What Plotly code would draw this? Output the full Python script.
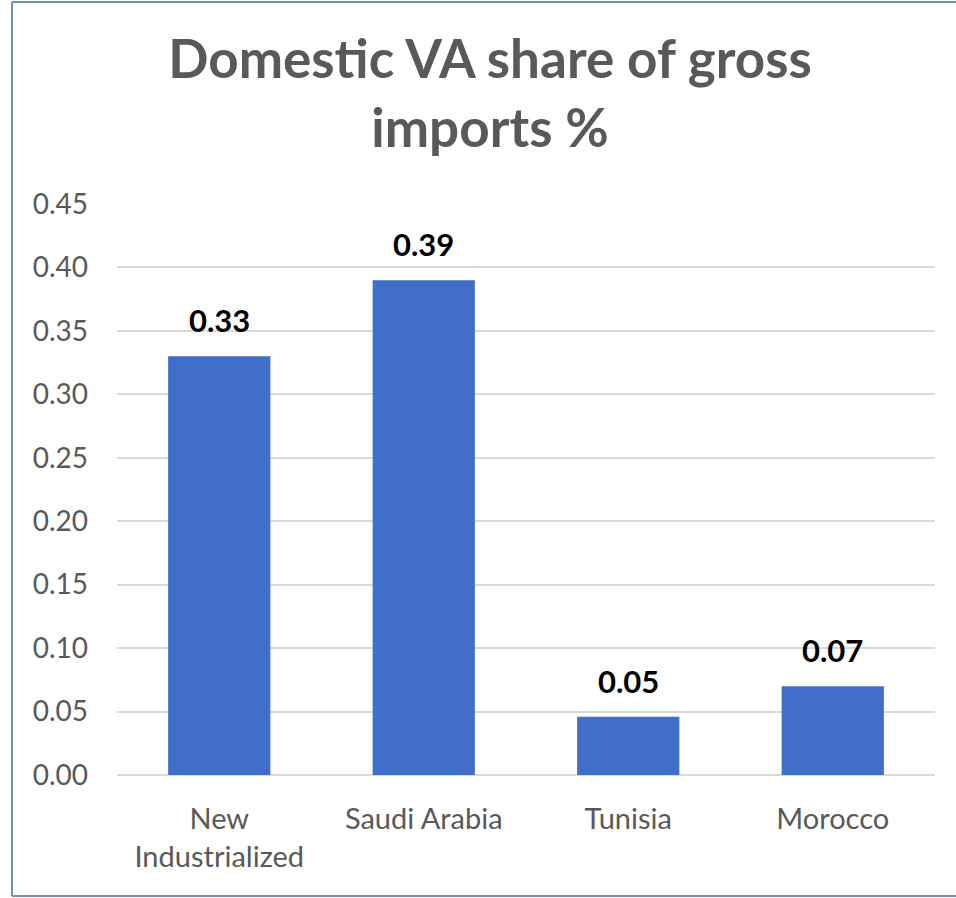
import plotly.graph_objects as go

# Domestic value-added share of gross imports, by economy
countries = ["New<br>Industrialized", "Saudi Arabia", "Tunisia", "Morocco"]
va_share = [0.33, 0.39, 0.046, 0.07]
y_ticks = [0.00, 0.05, 0.10, 0.15, 0.20, 0.25, 0.30, 0.35, 0.40, 0.45]

W, H = 956, 898
M_L, M_R, M_T, M_B = 117, 21, 204, 123

FONT = "Lato, Carlito, 'Open Sans', sans-serif"
GREY_TXT = "#595959"
BAR_BLUE = "#416ec8"

fig = go.Figure()
fig.add_trace(go.Bar(
    x=countries,
    y=va_share,
    width=0.5,
    marker=dict(color=BAR_BLUE, line=dict(width=0)),
    hoverinfo="x+y",
))

# value labels above each bar
for c, v in zip(countries, va_share):
    fig.add_annotation(
        x=c, y=v, text=f"<b>{v:.2f}</b>", showarrow=False,
        yanchor="bottom", yshift=15,
        font=dict(family=FONT, size=31, color="#000000"),
    )

# thin frame round the chart
pw = W - M_L - M_R
ph = H - M_T - M_B
def px_x(p):
    return (p - M_L) / pw
def px_y(p):
    return (H - M_B - p) / ph
frame = dict(type="line", xref="paper", yref="paper",
             line=dict(color="#6b94bd", width=2), layer="above")
fig.add_shape(**frame, x0=px_x(12), x1=px_x(12), y0=px_y(2), y1=px_y(896))
fig.add_shape(**frame, x0=px_x(12), x1=px_x(W + 5), y0=px_y(2), y1=px_y(2))
fig.add_shape(**frame, x0=px_x(12), x1=px_x(W + 5), y0=px_y(896), y1=px_y(896))

fig.update_layout(
    width=W, height=H,
    margin=dict(l=M_L, r=M_R, t=M_T, b=M_B),
    paper_bgcolor="white", plot_bgcolor="white",
    showlegend=False,
    bargap=0.5,
    title=dict(
        text="<b>Domestic VA share of gross<br>imports %</b>",
        x=490 / W, xanchor="center", xref="container",
        y=1 - 78 / H, yanchor="top", yref="container",
        font=dict(family=FONT, size=53, color=GREY_TXT),
    ),
    xaxis=dict(
        type="category",
        range=[-0.5, 3.5],
        showgrid=False, zeroline=False, showline=False,
        ticks="", ticklabelstandoff=24,
        tickfont=dict(family=FONT, size=29, color=GREY_TXT),
    ),
    yaxis=dict(
        range=[0, 0.45],
        tickvals=y_ticks,
        tickformat=".2f",
        showgrid=True, gridcolor="#d9d9d9", gridwidth=1.5,
        zeroline=True, zerolinecolor="#d9d9d9", zerolinewidth=1.5,
        showline=False, ticks="", ticklabelstandoff=28,
        tickfont=dict(family=FONT, size=28, color=GREY_TXT),
    ),
)

fig.write_html("out.html")
